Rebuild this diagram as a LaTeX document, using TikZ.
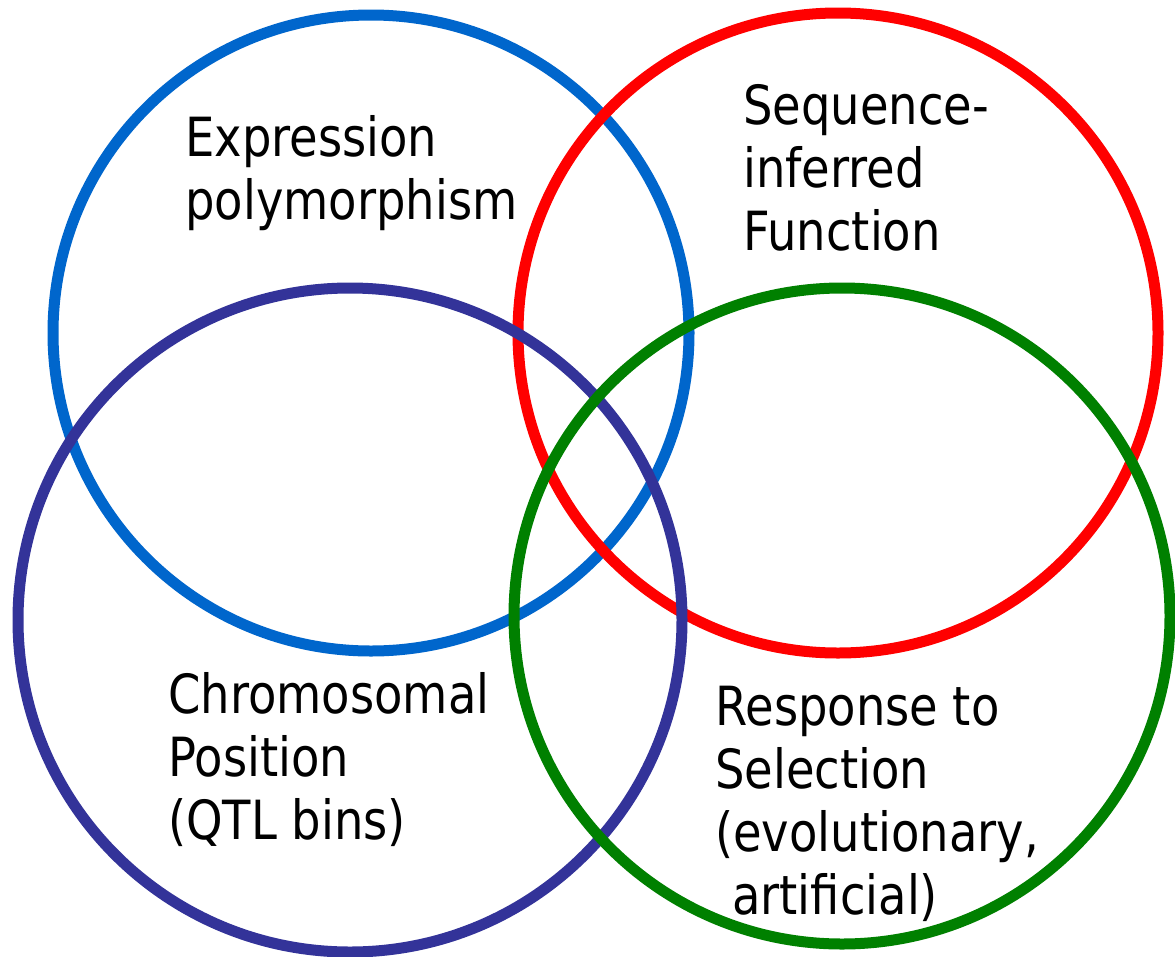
\documentclass[tikz,border=0pt]{standalone}
\usepackage{fontspec}
\setmainfont{DejaVu Sans}[FakeStretch=0.86]
\definecolor{cblue}{HTML}{0066CC}
\definecolor{cred}{HTML}{FF0000}
\definecolor{cpurple}{HTML}{333399}
\definecolor{cgreen}{HTML}{008000}
\begin{document}
\begin{tikzpicture}[x=1pt,y=-1pt,
  ring/.style={line width=11pt},
  lbl/.style={anchor=base west, inner sep=0pt, align=left, font=\fontsize{54}{63}\selectfont}]
\useasboundingbox (0,0) rectangle (1175,956);
\fill[white] (0,0) rectangle (1175,956);
\draw[ring, cblue] (371,333) circle[radius=318];
\draw[ring, cred] (838,333) circle[radius=320];
\draw[ring, cpurple] (350,620) circle[radius=332];
\draw[ring, cgreen] (842,616) circle[radius=328];
\node[lbl] (expr) at (185,219) {Expression\\polymorphism};
\node[lbl] (seq) at (743,250) {Sequence-\\inferred\\Function};
\node[lbl] (chrom) at (168,839) {Chromosomal\\Position\\(QTL bins)};
\node[lbl] (resp) at (715,914) {Response to\\Selection\\(evolutionary,\\\hspace*{17pt}artificial)};
\end{tikzpicture}
\end{document}
